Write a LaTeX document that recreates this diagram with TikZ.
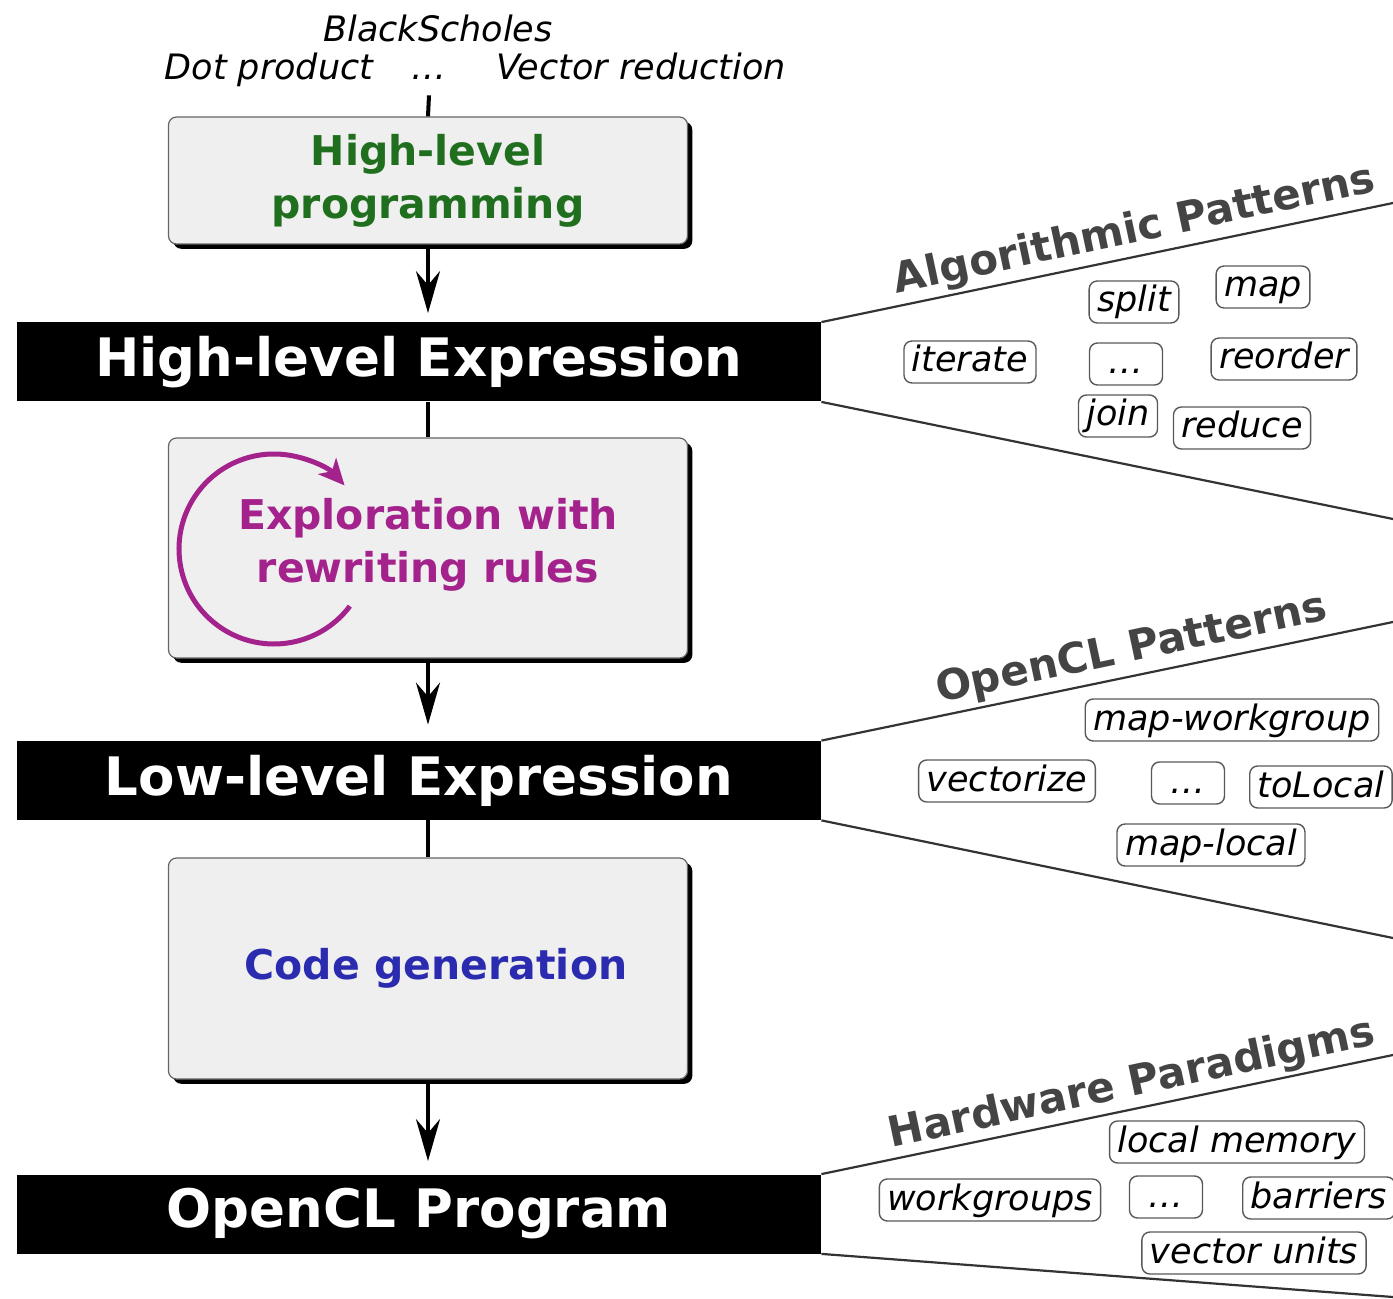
\documentclass[tikz,border=0pt]{standalone}
\usepackage{fontspec}
\setmainfont{DejaVu Sans}
\usetikzlibrary{arrows.meta,shadows}
\definecolor{boxfill}{HTML}{EFEFEF}
\definecolor{hlgreen}{HTML}{1F6F1F}
\definecolor{exmag}{HTML}{A4228C}
\definecolor{cgblue}{HTML}{2B2BB0}
\definecolor{fanline}{HTML}{333333}
\definecolor{grouptext}{HTML}{444444}

\begin{document}
\begin{tikzpicture}[x=0.5pt,y=-0.5pt,
  stage/.style={draw=black!60, line width=0.6pt, fill=boxfill, rounded corners=4pt,
    minimum width=259.5pt, align=center, inner sep=0pt,
    font=\bfseries\fontsize{20.5}{26.5}\selectfont,
    drop shadow={shadow xshift=2.4pt, shadow yshift=-2.4pt, fill=black, opacity=1}},
  level/.style={fill=black, text=white, minimum width=402pt, minimum height=39.5pt,
    inner sep=0pt, font=\bfseries\fontsize{26.5}{30}\selectfont},
  flow/.style={line width=2pt, -{Stealth[length=21pt,width=12pt,inset=7pt]}},
  link/.style={line width=2pt},
  fan/.style={draw=fanline, line width=1.1pt},
  group/.style={text=grouptext, font=\bfseries\fontsize{21}{25}\selectfont,
    rotate=12, anchor=base, inner sep=0pt},
  pat/.style={draw=black!65, line width=0.7pt, rounded corners=4pt,
    font=\itshape\fontsize{17.5}{20}\selectfont, inner xsep=4pt, inner ysep=2pt,
    text height=13.5pt, text depth=3.5pt},
  bench/.style={font=\itshape\fontsize{17.5}{20}\selectfont, anchor=base, inner sep=0pt}
]
\useasboundingbox (0,0) rectangle (1393,1299);

% benchmark programs
\node[bench] (bs)   at (438,42) {BlackScholes};
\node[bench] (dot)  at (269,80) {Dot product};
\node[bench] (dots) at (429,80) {…};
\node[bench] (vred) at (641,80) {Vector reduction};

% compilation stages
\node[stage, minimum height=63.5pt, text=hlgreen] (prog) at (428,180.5) {High-level\\programming};
\node[level] (hle) at (419,362) {High-level Expression};
\node[stage, minimum height=110pt, text=exmag] (expl) at (428,548)
  {Exploration with\\rewriting rules\rule[-7.5pt]{0pt}{0pt}};
\node[level] (lle) at (419,780.5) {Low-level Expression};
\node[stage, minimum height=110.5pt, text=cgblue] (cgen) at (428,968.5)
  {\hspace*{8pt}Code generation};
\node[level] (ocl) at (419,1214) {OpenCL Program};

% rewriting loop
\coordinate (loop) at (274,549);
\draw[exmag, line width=2.5pt, -{Stealth[length=13pt,width=12pt,inset=3.5pt]}]
  (loop) ++(37:95) arc[start angle=37, end angle=318, radius=95];

% main flow
\draw[link] ([yshift=-7.5pt]dots.south) -- (prog.north);
\draw[flow, shorten >=4.5pt] (prog.south) -- (prog.south |- hle.north);
\draw[link] (prog.south |- hle.south) -- (expl.north);
\draw[flow, shorten >=8pt] (expl.south) -- (expl.south |- lle.north);
\draw[link] (expl.south |- lle.south) -- (cgen.north);
\draw[flow, shorten >=6.5pt] (cgen.south) -- (cgen.south |- ocl.north);

% fans to the right
\coordinate (f1a) at (1393,203);
\coordinate (f1b) at (1393,519);
\coordinate (f2a) at (1393,622);
\coordinate (f2b) at (1393,938);
\coordinate (f3a) at (1393,1055);
\coordinate (f3b) at (1393,1297);
\draw[fan] (hle.north east) -- (f1a);
\draw[fan] (hle.south east) -- (f1b);
\draw[fan] (lle.north east) -- (f2a);
\draw[fan] (lle.south east) -- (f2b);
\draw[fan] (ocl.north east) -- (f3a);
\draw[fan] (ocl.south east) -- (f3b);

% algorithmic patterns
\node[group] (g1) at (1137,242) {Algorithmic Patterns};
\node[pat] (split)   at (1134,302) {split};
\node[pat] (map)     at (1263,287) {map};
\node[pat] (iterate) at (970,362)  {iterate};
\node[pat, minimum width=36.5pt] (etc1) at (1126,364) {…};
\node[pat] (reorder) at (1284,359) {reorder};
\node[pat] (join)    at (1118,416) {join};
\node[pat] (reduce)  at (1242,428) {reduce};

% OpenCL patterns
\node[group] (g2) at (1134,661) {OpenCL Patterns};
\node[pat] (mapwg)     at (1232,720) {map-workgroup};
\node[pat] (vectorize) at (1007,781) {vectorize};
\node[pat, minimum width=36.5pt] (etc2) at (1188,783) {…};
\node[pat, anchor=west] (tolocal) at (1249,787) {toLocal};
\node[pat] (maplocal)  at (1211,845) {map-local};

% hardware paradigms
\node[group] (g3) at (1134,1096) {Hardware Paradigms};
\node[pat] (lmem)     at (1237,1142) {local memory};
\node[pat] (wgroups)  at (990,1200)  {workgroups};
\node[pat, minimum width=36.5pt] (etc3) at (1166,1197) {…};
\node[pat, anchor=west] (barriers) at (1242,1198) {barriers};
\node[pat] (vunits)   at (1254,1253) {vector units};
\end{tikzpicture}
\end{document}
